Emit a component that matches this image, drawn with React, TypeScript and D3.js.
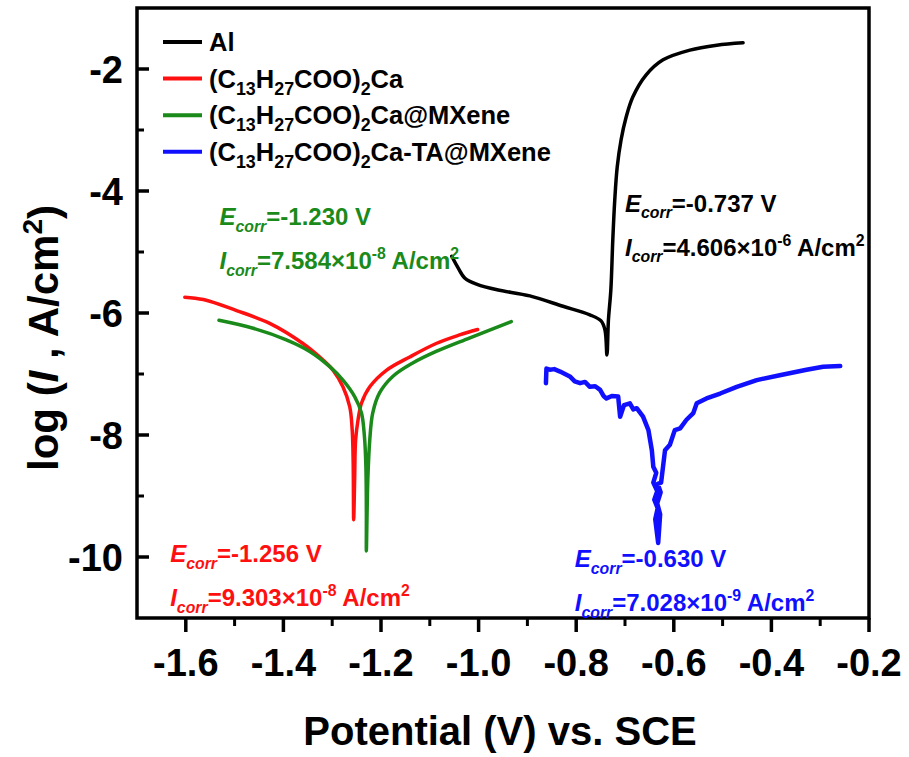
import { useMemo } from "react"
import * as d3 from "d3"

// Tafel curves: [potential (V vs SCE), log(I, A/cm2)]
const alCurve: [number, number][] = [
  [-1.055, -5.07], [-1.042, -5.26], [-1.028, -5.43], [-1.003, -5.53], [-0.962, -5.62],
  [-0.895, -5.72], [-0.827, -5.89], [-0.772, -6.03], [-0.749, -6.13], [-0.741, -6.28],
  [-0.737, -6.69], [-0.734, -6.12], [-0.729, -5.62], [-0.725, -4.8], [-0.721, -4.15],
  [-0.716, -3.61], [-0.708, -3.16], [-0.698, -2.8], [-0.684, -2.46], [-0.657, -2.1],
  [-0.622, -1.85], [-0.567, -1.69], [-0.512, -1.61], [-0.458, -1.57],
]

const caCurve: [number, number][] = [
  [-1.602, -5.74], [-1.564, -5.78], [-1.496, -5.96], [-1.428, -6.17], [-1.36, -6.5],
  [-1.326, -6.72], [-1.298, -6.94], [-1.278, -7.21], [-1.264, -7.54], [-1.259, -7.92],
  [-1.257, -8.46], [-1.256, -9.39], [-1.254, -8.73], [-1.252, -8.08], [-1.247, -7.75],
  [-1.24, -7.48], [-1.223, -7.21], [-1.189, -6.94], [-1.141, -6.72], [-1.087, -6.5],
  [-1.039, -6.36], [-1.002, -6.27],
]

const caMxCurve: [number, number][] = [
  [-1.532, -6.12], [-1.462, -6.25], [-1.394, -6.44], [-1.346, -6.63], [-1.305, -6.88],
  [-1.278, -7.1], [-1.254, -7.37], [-1.24, -7.64], [-1.234, -8.02], [-1.231, -8.51],
  [-1.23, -9.27], [-1.23, -9.9], [-1.227, -8.73], [-1.223, -8.08], [-1.217, -7.64],
  [-1.203, -7.31], [-1.176, -7.04], [-1.135, -6.82], [-1.087, -6.63], [-1.019, -6.41],
  [-0.933, -6.14],
]

const caTaMxCurve: [number, number][] = [
  [-0.862, -7.15], [-0.861, -6.91], [-0.854, -6.93], [-0.845, -6.92], [-0.833, -6.96],
  [-0.813, -7.04], [-0.803, -7.12], [-0.792, -7.15], [-0.782, -7.13], [-0.772, -7.21],
  [-0.761, -7.2], [-0.751, -7.26], [-0.744, -7.36], [-0.738, -7.4], [-0.727, -7.36],
  [-0.714, -7.37], [-0.71, -7.7], [-0.702, -7.51], [-0.69, -7.48], [-0.683, -7.58],
  [-0.676, -7.56], [-0.663, -7.7], [-0.652, -7.92], [-0.645, -8.25], [-0.642, -8.52],
  [-0.636, -8.62], [-0.642, -8.78], [-0.634, -8.92], [-0.64, -9.06], [-0.633, -9.2],
  [-0.638, -9.38], [-0.632, -9.77], [-0.628, -9.3], [-0.634, -9.12], [-0.627, -8.94],
  [-0.633, -8.8], [-0.626, -8.78], [-0.618, -8.25], [-0.608, -8.16], [-0.598, -7.92],
  [-0.587, -7.89], [-0.574, -7.75], [-0.56, -7.64], [-0.553, -7.48], [-0.533, -7.4],
  [-0.505, -7.32], [-0.471, -7.21], [-0.43, -7.1], [-0.383, -7.02], [-0.328, -6.93],
  [-0.294, -6.88], [-0.259, -6.87],
]

const seriesNames = ["Al", "(C13H27COO)2Ca", "(C13H27COO)2Ca@MXene", "(C13H27COO)2Ca-TA@MXene"]
const seriesColors = ["#000000", "#ff1010", "#1a8a1a", "#1010ff"]

const xTicks = [-1.6, -1.4, -1.2, -1.0, -0.8, -0.6, -0.4, -0.2]
const xMinor = [-1.5, -1.3, -1.1, -0.9, -0.7, -0.5, -0.3]
const yTicks = [-2, -4, -6, -8, -10]
const yMinor = [-3, -5, -7, -9]

// corrosion annotations: Ecorr (V), Icorr mantissa, exponent
const ecorrValues = ["-0.737", "-1.256", "-1.230", "-0.630"]
const icorrMantissa = ["4.606", "9.303", "7.584", "7.028"]
const icorrExponent = ["-6", "-8", "-8", "-9"]

const font = "'Liberation Sans', Arial, sans-serif"

type Part = { t: string; k?: "sub" | "sup"; i?: boolean }

function Rich({ x, y, parts, size, fill, small = 0.66 }: { x: number; y: number; parts: Part[]; size: number; fill: string; small?: number }) {
  let shift = 0
  return (
    <text x={x} y={y} fontSize={size} fontWeight="bold" fontFamily={font} fill={fill}>
      {parts.map((p, j) => {
        const target = p.k === "sub" ? size * 0.28 : p.k === "sup" ? -size * 0.42 : 0
        const dy = target - shift
        shift = target
        return (
          <tspan
            key={j}
            dy={dy}
            fontSize={p.k ? size * small : size}
            fontStyle={p.i ? "italic" : "normal"}
          >
            {p.t}
          </tspan>
        )
      })}
    </text>
  )
}

function formulaParts(name: string): Part[] {
  // subscripts for the numbers inside the formula
  const out: Part[] = []
  const re = /(\d+)/g
  let last = 0
  let m
  while ((m = re.exec(name)) !== null) {
    if (m.index > last) out.push({ t: name.slice(last, m.index) })
    out.push({ t: m[1], k: "sub" })
    last = m.index + m[1].length
  }
  if (last < name.length) out.push({ t: name.slice(last) })
  return out
}

export default function App() {
  const width = 909
  const height = 757
  const margin = { top: 8, right: 40, bottom: 139, left: 137 }

  const x = d3.scaleLinear().domain([-1.7, -0.2]).range([margin.left, width - margin.right])
  const y = d3.scaleLinear().domain([-11, -1]).range([height - margin.bottom, margin.top])

  const line = useMemo(
    () =>
      d3
        .line<[number, number]>()
        .x((d) => x(d[0]))
        .y((d) => y(d[1]))
        .curve(d3.curveCatmullRom.alpha(0.5)),
    []
  )
  const rough = d3
    .line<[number, number]>()
    .x((d) => x(d[0]))
    .y((d) => y(d[1]))

  const curves = [alCurve, caCurve, caMxCurve, caTaMxCurve]

  // annotation anchors (potential, logI) for the Ecorr line; Icorr goes below it
  const annoPos: [number, number][] = [
    [-0.7, -4.34],
    [-1.632, -10.08],
    [-1.531, -4.56],
    [-0.803, -10.17],
  ]

  const x0 = margin.left
  const x1 = width - margin.right
  const y0 = margin.top
  const y1 = height - margin.bottom

  return (
    <div style={{ position: "absolute", left: 0, top: 0 }}>
      <svg width={width} height={height} style={{ display: "block", background: "#fff" }}>
        {/* curves */}
        {curves.map((c, i) => (
          <path
            key={i}
            d={(i === 3 ? rough(c) : line(c)) || ""}
            fill="none"
            stroke={seriesColors[i]}
            strokeWidth={i === 3 ? 4.5 : 3.5}
            strokeLinejoin="round"
            strokeLinecap="round"
          />
        ))}

        {/* frame */}
        <rect x={x0} y={y0} width={x1 - x0} height={y1 - y0} fill="none" stroke="#000" strokeWidth={3.5} />

        {/* x ticks (outward) */}
        {xTicks.map((t) => (
          <g key={t}>
            <line x1={x(t)} x2={x(t)} y1={y1} y2={y1 + 14} stroke="#000" strokeWidth={3.5} />
            <text
              x={x(t)}
              y={y1 + 58}
              textAnchor="middle"
              fontSize={38}
              fontWeight="bold"
              fontFamily={font}
            >
              {t.toFixed(1)}
            </text>
          </g>
        ))}
        {xMinor.map((t) => (
          <line key={t} x1={x(t)} x2={x(t)} y1={y1} y2={y1 + 8} stroke="#000" strokeWidth={3} />
        ))}

        {/* y ticks (inward) */}
        {yTicks.map((t) => (
          <g key={t}>
            <line x1={x0} x2={x0 + 12} y1={y(t)} y2={y(t)} stroke="#000" strokeWidth={3.5} />
            <text
              x={x0 - 14}
              y={y(t)}
              dy="0.36em"
              textAnchor="end"
              fontSize={38}
              fontWeight="bold"
              fontFamily={font}
            >
              {t}
            </text>
          </g>
        ))}
        {yMinor.map((t) => (
          <line key={t} x1={x0} x2={x0 + 7} y1={y(t)} y2={y(t)} stroke="#000" strokeWidth={3} />
        ))}

        {/* axis titles */}
        <text
          x={(x0 + x1) / 2 - 3}
          y={745}
          textAnchor="middle"
          fontSize={40}
          fontWeight="bold"
          fontFamily={font}
        >
          Potential (V) vs. SCE
        </text>
        <g transform={`translate(58, ${338}) rotate(-90)`}>
          <text textAnchor="middle" fontSize={42} fontWeight="bold" fontFamily={font}>
            log (<tspan fontStyle="italic">I</tspan> , A/cm
            <tspan dy={-16} fontSize={28}>2</tspan>
            <tspan dy={16}>)</tspan>
          </text>
        </g>

        {/* legend */}
        {seriesNames.map((n, i) => {
          const cy = 42 + i * 36.6
          return (
            <g key={n}>
              <line x1={163} x2={202} y1={cy} y2={cy} stroke={seriesColors[i]} strokeWidth={4} />
              <Rich x={209} y={cy + 9} parts={formulaParts(n)} size={25.5} small={0.7} fill="#000" />
            </g>
          )
        })}

        {/* Ecorr / Icorr annotations */}
        {annoPos.map((p, i) => {
          const ax = x(p[0])
          const ay = y(p[1])
          const c = i === 0 ? "#000" : seriesColors[i]
          return (
            <g key={i}>
              <Rich
                x={ax}
                y={ay}
                size={24}
                fill={c}
                parts={[{ t: "E", i: true }, { t: "corr", k: "sub", i: true }, { t: `=${ecorrValues[i]} V` }]}
              />
              <Rich
                x={ax}
                y={ay + 44}
                size={24}
                fill={c}
                parts={[
                  { t: "I", i: true },
                  { t: "corr", k: "sub", i: true },
                  { t: `=${icorrMantissa[i]}×10` },
                  { t: icorrExponent[i], k: "sup" },
                  { t: " A/cm" },
                  { t: "2", k: "sup" },
                ]}
              />
            </g>
          )
        })}
      </svg>
    </div>
  )
}
